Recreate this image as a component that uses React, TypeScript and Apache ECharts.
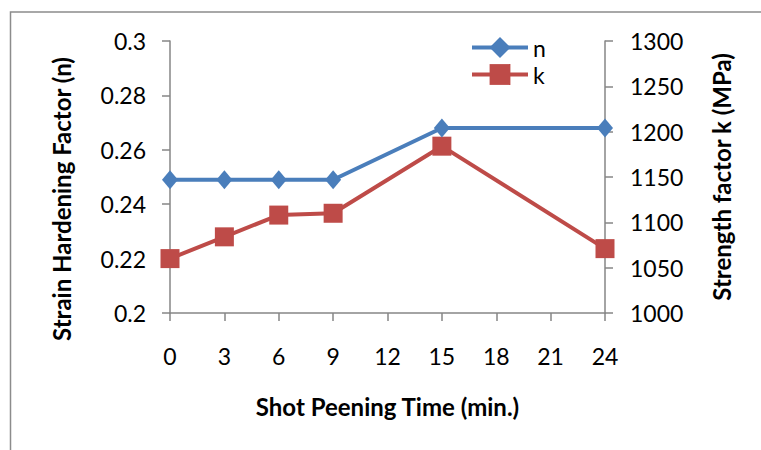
import React, { useEffect, useRef } from "react";
import * as echarts from "echarts";

const times = [0, 3, 6, 9, 15, 24];
const nValues = [0.249, 0.249, 0.249, 0.249, 0.268, 0.268];
const kValues = [1060, 1084, 1108, 1110, 1184, 1071];

const FONT = "Lato, 'Noto Sans', sans-serif";
const AXIS_COLOR = "#868686";
const LABEL_SIZE = 23;
const TITLE_SIZE = 24;

export default function App() {
  const ref = useRef<HTMLDivElement>(null);
  useEffect(() => {
    if (!ref.current) return;
    const chart = echarts.init(ref.current, undefined, { renderer: "svg" });
    chart.setOption({
      animation: false,
      backgroundColor: "#ffffff",
      textStyle: { fontFamily: FONT },
      graphic: [
        {
          type: "rect",
          shape: { x: 10.5, y: 12, width: 800, height: 500 },
          style: { fill: "none", stroke: "#8c8c8c", lineWidth: 1.5 },
          silent: true,
        },
      ],
      grid: { left: 170, right: 156, top: 41, bottom: 137 },
      legend: {
        orient: "vertical",
        left: 465,
        top: 31,
        itemWidth: 56,
        itemHeight: 26,
        itemGap: 4,
        lineStyle: { width: 4 },
        textStyle: { fontSize: LABEL_SIZE, color: "#000", fontFamily: FONT },
        data: ["n", "k"],
      },
      xAxis: {
        type: "value",
        min: 0,
        max: 24,
        interval: 3,
        name: "Shot Peening Time (min.)",
        nameLocation: "middle",
        nameGap: 81,
        nameTextStyle: { fontSize: TITLE_SIZE, fontWeight: "bold", color: "#000", fontFamily: FONT },
        axisLine: { lineStyle: { color: AXIS_COLOR, width: 1.5 } },
        axisTick: { show: true, inside: false, length: 8, lineStyle: { color: AXIS_COLOR, width: 1.5 } },
        axisLabel: { fontSize: LABEL_SIZE, color: "#000", margin: 31, fontFamily: FONT },
        splitLine: { show: false },
      },
      yAxis: [
        {
          type: "value",
          min: 0.2,
          max: 0.3,
          interval: 0.02,
          position: "left",
          name: "Strain Hardening Factor (n)",
          nameLocation: "middle",
          nameGap: 97,
          nameTextStyle: {
            fontSize: TITLE_SIZE,
            fontWeight: "bold",
            color: "#000",
            fontFamily: FONT,
            padding: [0, 44, 0, 0],
          },
          axisLine: { show: true, lineStyle: { color: AXIS_COLOR, width: 1.5 } },
          axisTick: { show: true, length: 8, lineStyle: { color: AXIS_COLOR, width: 1.5 } },
          axisLabel: {
            fontSize: LABEL_SIZE,
            color: "#000",
            margin: 24,
            fontFamily: FONT,
            formatter: (v: number) => String(parseFloat(v.toFixed(2))),
          },
          splitLine: { show: false },
        },
        {
          type: "value",
          min: 1000,
          max: 1300,
          interval: 50,
          position: "right",
          name: "Strength factor k (MPa)",
          nameLocation: "middle",
          nameGap: 104,
          nameTextStyle: { fontSize: TITLE_SIZE, fontWeight: "bold", color: "#000", fontFamily: FONT },
          axisLine: { show: true, lineStyle: { color: AXIS_COLOR, width: 1.5 } },
          axisTick: { show: true, length: 8, lineStyle: { color: AXIS_COLOR, width: 1.5 } },
          axisLabel: {
            fontSize: LABEL_SIZE,
            color: "#000",
            margin: 25,
            fontFamily: FONT,
            formatter: (v: number) => String(v),
          },
          splitLine: { show: false },
        },
      ],
      series: [
        {
          name: "n",
          type: "line",
          yAxisIndex: 0,
          data: times.map((t, i) => [t, nValues[i]]),
          symbol: "diamond",
          symbolSize: [16, 19],
          itemStyle: { color: "#4a7ebb" },
          lineStyle: { color: "#4a7ebb", width: 4 },
          z: 3,
        },
        {
          name: "k",
          type: "line",
          yAxisIndex: 1,
          data: times.map((t, i) => [t, kValues[i]]),
          symbol: "rect",
          symbolSize: 19,
          itemStyle: { color: "#be4b48" },
          lineStyle: { color: "#be4b48", width: 4 },
          z: 2,
        },
      ],
    });
    return () => chart.dispose();
  }, []);
  return (
    <div
      ref={ref}
      style={{ position: "fixed", left: 0, top: 0, width: 761, height: 450 }}
    />
  );
}
